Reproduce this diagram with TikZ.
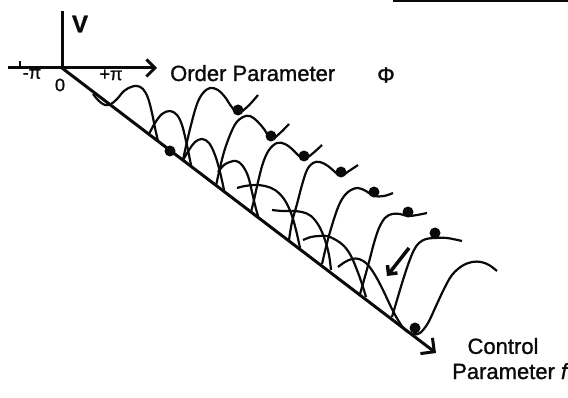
\documentclass[tikz,border=0pt]{standalone}
\usepackage{fontspec}
\setmainfont{Liberation Sans}
\newfontfamily\scanfont{Liberation Sans}[FakeBold=1.2]
\usepackage{xcolor}
\usepackage{tikz}
\usetikzlibrary{arrows.meta, positioning}
\definecolor{inkblack}{RGB}{10,10,10}
\newcommand{\bigfont}{\scanfont\fontsize{22}{26}\selectfont}
\newcommand{\tickfont}{\scanfont\fontsize{18}{20}\selectfont}
\tikzset{
  axis/.style={line width=3pt, color=inkblack},
  wave/.style={line width=2.2pt, color=inkblack, line join=round},
  ball/.style={circle, fill=inkblack, inner sep=0pt, minimum size=11pt},
  lbl/.style={font=\bigfont, inner sep=0pt, color=inkblack},
  ticklbl/.style={font=\tickfont, inner sep=0pt, color=inkblack},
  rollarrow/.style={line width=3.5pt, color=inkblack, -{Straight Barb[angle=90:9pt]}}
}

\begin{document}
\begin{tikzpicture}[x=1pt, y=-1pt]
  \useasboundingbox (0,0) rectangle (568,398);

  % Axes
  \coordinate (O) at (62,68);
  \coordinate (Vtop) at (62,11);
  \coordinate (Phistart) at (8,68);
  \coordinate (Phiend) at (157,68);
  \coordinate (fend) at (436,353);
  \draw[axis] (O) -- (Vtop);
  \draw[axis, -{Straight Barb[angle=90:12pt]}] (Phistart) -- (Phiend);
  \draw[axis, -{Straight Barb[angle=90:14pt]}] (O) -- (fend);
  \draw[line width=2pt, color=inkblack] (20,68) -- (20,61);
  \draw[line width=2pt, color=inkblack] (393,1) -- (568,1);

  % Axis labels
  \node[lbl, font=\scanfont\fontsize{24}{26}\selectfont\bfseries] (vlab) at (80,24) {V};
  \node[ticklbl] (mpi) at (32,74) {-π};
  \node[ticklbl] (zero) at (60,85) {0};
  \node[ticklbl] (ppi) at (111,75) {+π};
  \node[lbl, anchor=base west] (orderlab) at (170,81) {Order Parameter};
  \node[lbl] (philab) at (386,75) {Φ};
  \node[lbl] (ctrllab) at (503,346) {Control};
  \node[lbl, anchor=base west] (paramlab) at (452,379) {Parameter \textit{f}};

  % Tall potential curves
  \draw[wave] plot[smooth, tension=0.6] coordinates {(93,94) (99,101) (105,105) (111,104) (117,99) (124,91) (131,87) (137,86) (143,89) (148,98) (152,113) (155,128) (158,141)};
  \draw[wave] plot[smooth, tension=0.6] coordinates {(183,160) (186,146) (191,125) (197,104) (203,93) (210,88) (218,90) (225,97) (231,106) (238,113) (246,108) (252,102) (258,95)};
  \draw[wave] plot[smooth, tension=0.6] coordinates {(216,186) (219,172) (224,152) (230,135) (236,123) (243,117) (250,116) (257,121) (264,129) (271,139) (279,134) (289,124)};
  \draw[wave] plot[smooth, tension=0.6] coordinates {(251,212) (254,200) (258,182) (263,163) (269,150) (277,143) (285,144) (292,149) (298,155) (304,159) (312,154) (322,145)};
  \draw[wave] plot[smooth, tension=0.6] coordinates {(289,240) (292,222) (297,204) (302,185) (307,170) (313,163) (320,162) (328,166) (335,172) (341,176) (349,171) (358,165)};
  \draw[wave] plot[smooth, tension=0.6] coordinates {(322,264) (327,243) (333,222) (339,205) (345,195) (351,190) (358,188) (366,191) (374,196) (384,196) (393,193)};
  \draw[wave] plot[smooth, tension=0.6] coordinates {(360,294) (364,280) (369,262) (374,243) (379,228) (385,218) (392,214) (400,214) (408,216) (417,215) (427,213)};
  \draw[wave] plot[smooth, tension=0.6] coordinates {(392,317) (397,300) (403,280) (409,262) (414,250) (419,243) (426,239) (435,238) (447,238) (462,241)};

  % Low humps along the f axis
  \draw[wave] plot[smooth, tension=0.6] coordinates {(149,134) (155,123) (162,114) (170,111) (177,115) (182,125) (186,141) (189,155) (191,165)};
  \draw[wave] plot[smooth, tension=0.6] coordinates {(183,160) (189,150) (195,142) (202,139) (209,143) (215,155) (220,172) (224,190)};
  \draw[wave] plot[smooth, tension=0.6] coordinates {(218,172) (224,165) (230,162) (236,161) (242,165) (248,176) (252,192) (255,205) (258,216)};
  \draw[wave] plot[smooth, tension=0.6] coordinates {(237,188) (245,186) (255,185) (265,186) (275,190) (284,199) (291,213) (296,230) (300,248)};
  \draw[wave] plot[smooth, tension=0.6] coordinates {(272,210) (282,211) (292,211) (302,212) (311,216) (319,226) (325,240) (329,255) (331,270)};
  \draw[wave] plot[smooth, tension=0.6] coordinates {(303,240) (311,237) (319,236) (327,236) (336,240) (344,246) (351,256) (357,270) (362,284) (366,297)};
  % Last curve, no metastable well
  \draw[wave] plot[smooth, tension=0.6] coordinates {(338,267) (345,262) (352,259) (359,259) (367,264) (375,275) (383,290) (391,307) (398,320) (405,330) (413,334) (420,333) (428,323) (436,306) (444,289) (452,275) (462,266) (472,262) (481,262) (489,265) (497,271)};

  % Balls
  \node[ball] (b0) at (170,151) {};
  \node[ball] (b1) at (238,110) {};
  \node[ball] (b2) at (271,136) {};
  \node[ball] (b3) at (304,156) {};
  \node[ball] (b4) at (341,172) {};
  \node[ball] (b5) at (374,192) {};
  \node[ball] (b6) at (408,212) {};
  \node[ball] (b7) at (435,233) {};
  \node[ball] (b8) at (415,328) {};

  % Roll back arrow
  \coordinate (rolltail) at (409,248);
  \coordinate (rolltip) at (387,276);
  \draw[rollarrow] (rolltail) -- (rolltip);
\end{tikzpicture}
\end{document}
